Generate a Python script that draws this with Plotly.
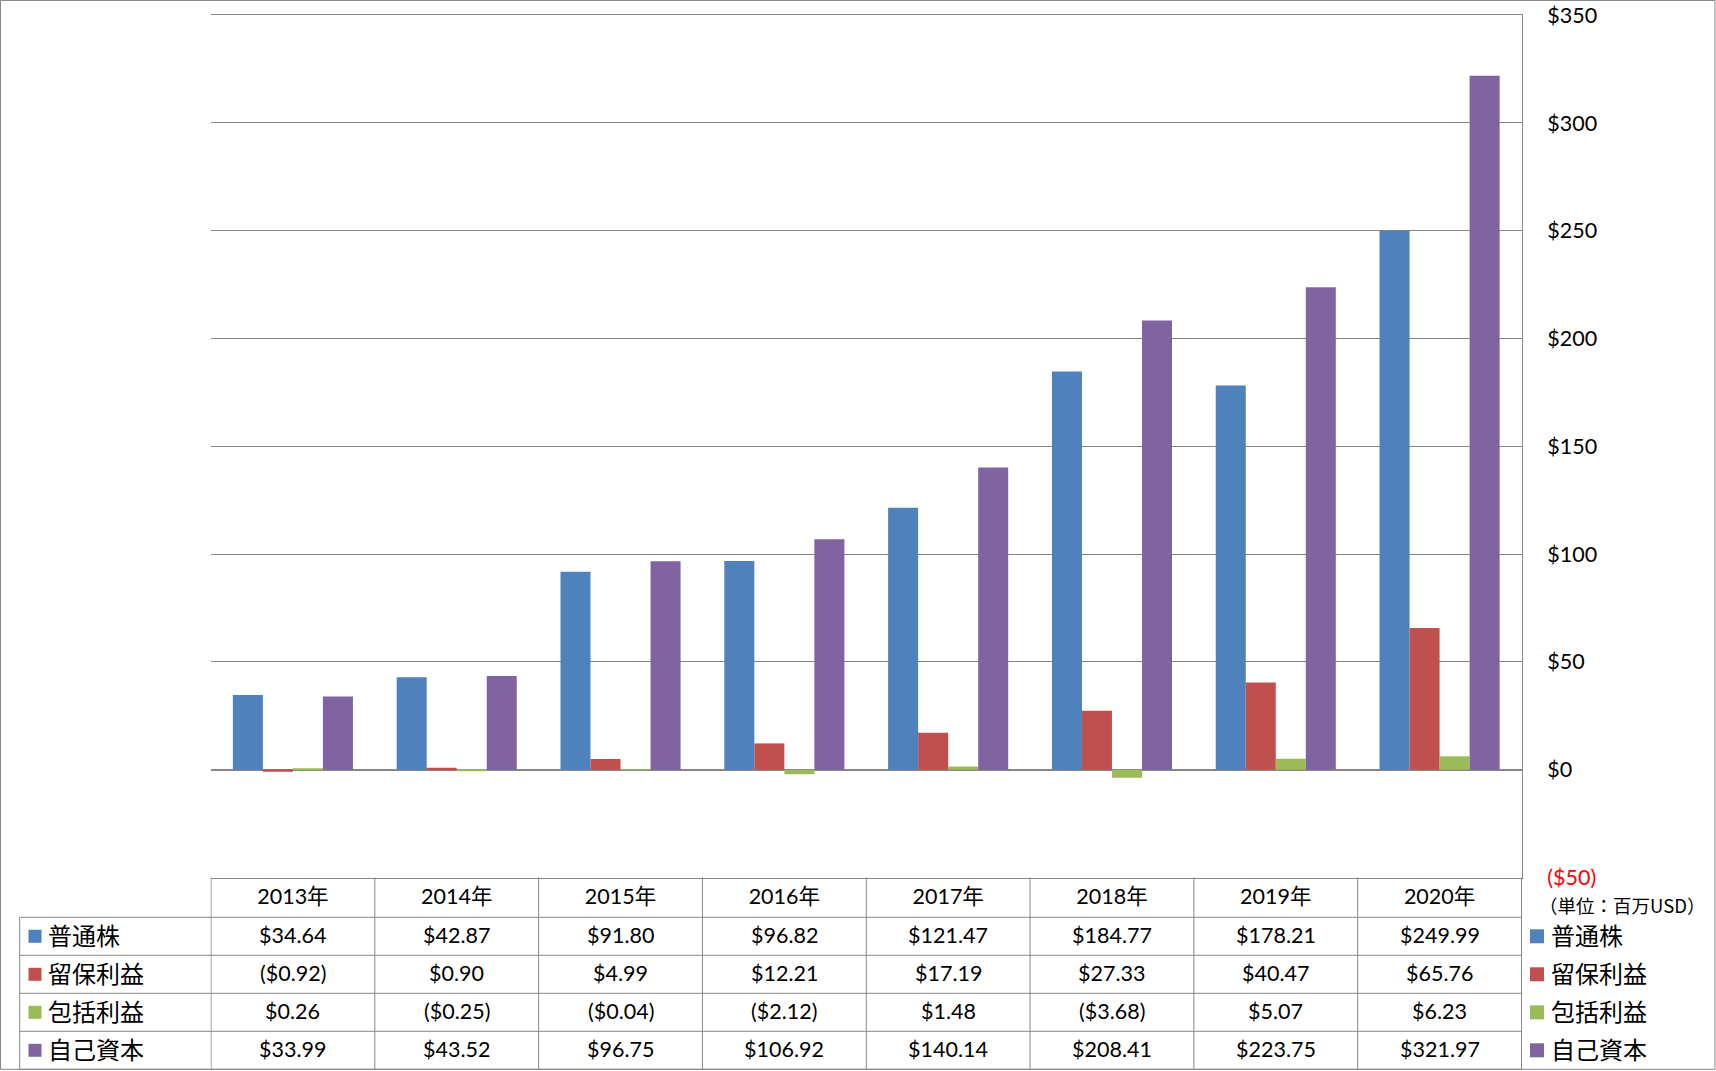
import plotly.graph_objects as go

# ---- data ----
years = ["2013年", "2014年", "2015年", "2016年", "2017年", "2018年", "2019年", "2020年"]
series_names = ["普通株", "留保利益", "包括利益", "自己資本"]
common_stock = [34.64, 42.87, 91.80, 96.82, 121.47, 184.77, 178.21, 249.99]
retained_earnings = [-0.92, 0.90, 4.99, 12.21, 17.19, 27.33, 40.47, 65.76]
comprehensive_income = [0.26, -0.25, -0.04, -2.12, 1.48, -3.68, 5.07, 6.23]
equity = [33.99, 43.52, 96.75, 106.92, 140.14, 208.41, 223.75, 321.97]
y_tickvals = [-50, 0, 50, 100, 150, 200, 250, 300, 350]
unit_note = "（単位：百万USD）"

series_values = [common_stock, retained_earnings, comprehensive_income, equity]
colors = ["#4F81BD", "#C0504D", "#9BBB59", "#8064A2"]

W, H = 1716, 1071
NUM_FONT = "Lato, 'Noto Sans CJK JP', sans-serif"
JP_FONT = "'Noto Sans CJK JP', sans-serif"
GRID = "#868686"


def money(v):
    return f"(${abs(v):,.2f})" if v < 0 else f"${v:,.2f}"


def tick_money(v):
    s = f"(${abs(v):,.0f})" if v < 0 else f"${v:,.0f}"
    return f"<span style='color:#FF0000'>{s}</span>" if v < 0 else s


def py(px):
    return 1 - px / H


def pxx(px):
    return px / W


# layout geometry (pixels)
plot_left, plot_right = 210.5, 1522.0
plot_top, plot_bottom = 15.2, 877.5
row_h = 38.0
row_top0 = 917.3
table_left = 19.7
table_bottom = row_top0 + row_h * len(series_names)

fig = go.Figure()
for name, vals, col in zip(series_names, series_values, colors):
    fig.add_trace(go.Bar(x=years, y=vals, name=name, marker=dict(color=col, line=dict(width=0))))

shapes = []
annotations = []

# vertical table lines at category boundaries
for i in range(len(years) + 1):
    shapes.append(dict(type="line", xref="x", yref="paper", x0=i - 0.5, x1=i - 0.5,
                       y0=py(plot_bottom), y1=py(table_bottom), line=dict(color=GRID, width=1)))
# left border of row-label column
shapes.append(dict(type="line", xref="paper", yref="paper", x0=pxx(table_left), x1=pxx(table_left),
                   y0=py(row_top0), y1=py(table_bottom), line=dict(color=GRID, width=1)))
# horizontal row lines
for r in range(len(series_names) + 1):
    yy = row_top0 + r * row_h
    shapes.append(dict(type="line", xref="paper", yref="paper", x0=pxx(table_left), x1=pxx(plot_right),
                       y0=py(yy), y1=py(yy), line=dict(color=GRID, width=1)))
# outer chart border
shapes.append(dict(type="rect", xref="paper", yref="paper", x0=pxx(0.5), x1=pxx(1715.0),
                   y0=py(table_bottom), y1=py(0.5), line=dict(color=GRID, width=1)))

for r, (name, vals, col) in enumerate(zip(series_names, series_values, colors)):
    yc = row_top0 + r * row_h + row_h / 2
    for yr, v in zip(years, vals):
        annotations.append(dict(xref="x", yref="paper", x=yr, y=py(yc - 1), text=money(v), showarrow=False,
                                xanchor="center", yanchor="middle", font=dict(family=NUM_FONT, size=21.5, color="black")))
    shapes.append(dict(type="rect", xref="paper", yref="paper", x0=pxx(28.5), x1=pxx(41.5),
                       y0=py(yc + 6.5), y1=py(yc - 6.5), fillcolor=col, line=dict(width=0)))
    annotations.append(dict(xref="paper", yref="paper", x=pxx(46), y=py(yc - 2), text=name, showarrow=False,
                            xanchor="left", yanchor="middle", font=dict(family=JP_FONT, size=24, color="black")))
    shapes.append(dict(type="rect", xref="paper", yref="paper", x0=pxx(1530), x1=pxx(1544),
                       y0=py(yc + 7), y1=py(yc - 7), fillcolor=col, line=dict(width=0)))
    annotations.append(dict(xref="paper", yref="paper", x=pxx(1549), y=py(yc - 2), text=name, showarrow=False,
                            xanchor="left", yanchor="middle", font=dict(family=JP_FONT, size=24, color="black")))

annotations.append(dict(xref="paper", yref="paper", x=pxx(1537), y=py(905), text=unit_note, showarrow=False,
                        xanchor="left", yanchor="middle", font=dict(family=JP_FONT, size=18.5, color="black")))

fig.update_layout(
    width=W, height=H, autosize=False,
    margin=dict(l=0, r=0, t=0, b=0, pad=0, autoexpand=False),
    paper_bgcolor="white", plot_bgcolor="white",
    showlegend=False,
    barmode="group", bargap=0.267, bargroupgap=0,
    shapes=shapes, annotations=annotations,
    xaxis=dict(domain=[pxx(plot_left), pxx(plot_right)], showgrid=False, showline=True, mirror=True,
               linecolor=GRID, linewidth=1, ticks="",
               tickfont=dict(family=NUM_FONT, size=21.5, color="black"),
               ticklabelstandoff=0, fixedrange=True, automargin=False),
    yaxis=dict(domain=[py(plot_bottom), py(plot_top)], range=[-50, 350], side="right",
               tickvals=y_tickvals, ticktext=[tick_money(v) for v in y_tickvals],
               showgrid=True, gridcolor=GRID, gridwidth=1,
               zeroline=True, zerolinecolor=GRID, zerolinewidth=2,
               showline=True, linecolor=GRID, linewidth=1, ticks="",
               tickfont=dict(family=NUM_FONT, size=21.5, color="black"),
               ticklabelstandoff=20, fixedrange=True, automargin=False),
)

fig.write_html(
    "out.html",
    config={"responsive": False, "displayModeBar": False},
    post_script="document.body.style.margin='0';document.body.style.overflow='hidden';",
)
